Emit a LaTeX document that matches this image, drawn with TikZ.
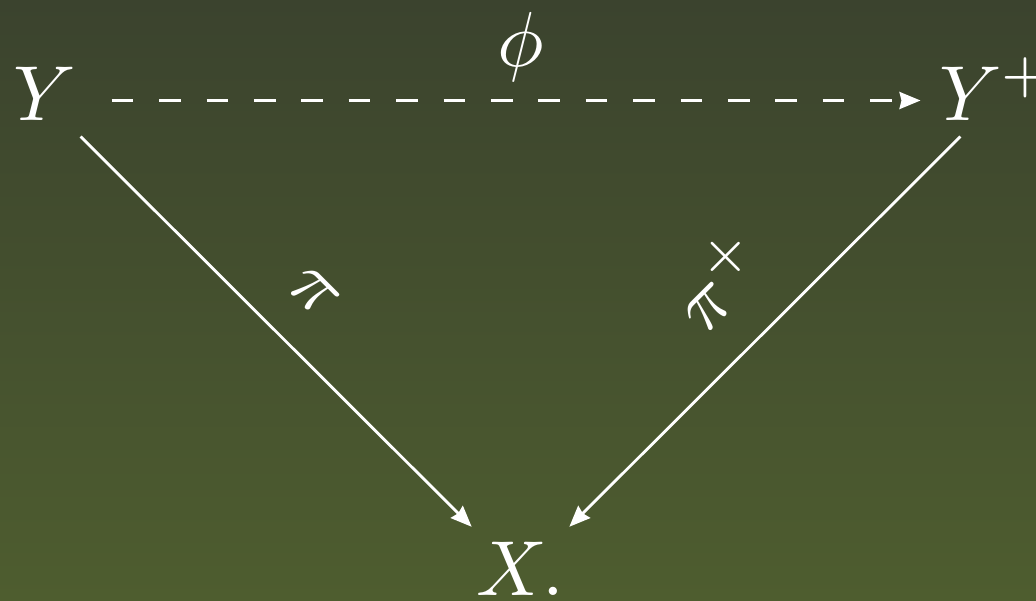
\documentclass[tikz,border=0pt]{standalone}
\usetikzlibrary{arrows.meta}
\definecolor{bgtop}{RGB}{59,67,46}
\definecolor{bgbot}{RGB}{78,93,47}
\begin{document}
\begin{tikzpicture}[x=1pt,y=-1pt,
 vert/.style={scale=7.8, inner sep=0pt, text=white, text height=5pt, text depth=0pt},
 lab/.style={scale=7.8, inner sep=0pt, text=white},
 arr/.style={white, line width=2.8pt, -{Stealth[length=21pt,width=17pt,inset=2pt]}},
 dashedarr/.style={arr, dash pattern=on 21.6pt off 25.8pt}]
\shade[top color=bgtop, bottom color=bgbot] (0,0) rectangle (1036,600);
\useasboundingbox (0,0) rectangle (1036,600);
\node[vert] (Y) at (44.5,100.5) {$Y$};
\node[vert] (Yp) at (996.5,100.5) {$Y^+$};
\node[vert] (X) at (520.5,575.5) {$X.$};
\draw[dashedarr, shorten <=67.2pt, shorten >=76pt] (Y.center) -- (Yp.center);
\draw[arr, shorten <=51pt, shorten >=69pt] (Y.center) -- (X.center);
\draw[arr, shorten <=51pt, shorten >=69pt] (Yp.center) -- (X.center);
\node[lab] (phi) at (521,47) {$\phi$};
\node[lab, rotate=-45] (pi) at (314,292) {$\pi$};
\node[lab, rotate=45] (pip) at (718,280) {$\pi^{+}$};
\end{tikzpicture}
\end{document}
